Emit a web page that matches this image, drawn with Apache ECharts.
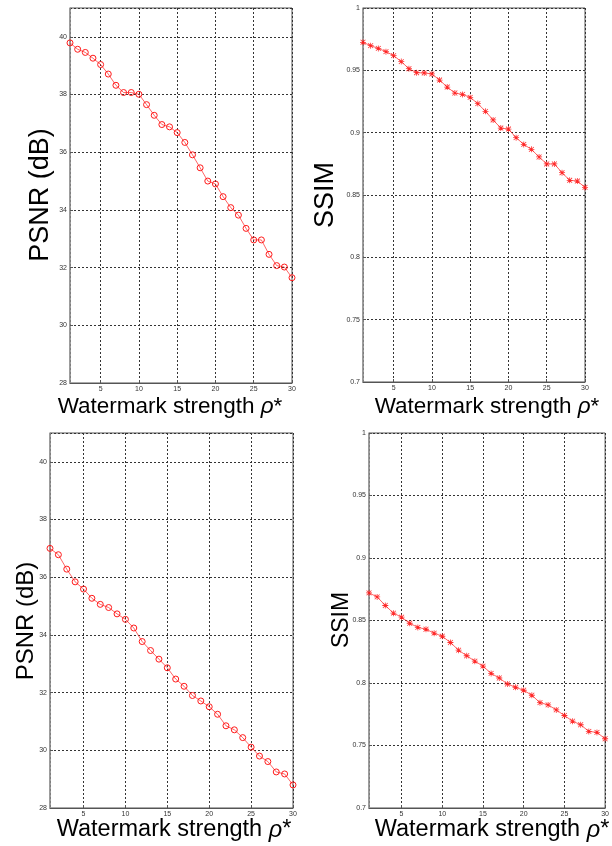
<!DOCTYPE html>
<html><head><meta charset="utf-8">
<script src="https://cdn.jsdelivr.net/npm/echarts@6/dist/echarts.min.js"></script>
<style>html,body{margin:0;padding:0;background:#fff}#c{width:612px;height:846px}</style>
</head><body><div id="c"></div>
<script>
const strength = [1,2,3,4,5,6,7,8,9,10,11,12,13,14,15,16,17,18,19,20,21,22,23,24,25,26,27,28,29,30];
const psnrTop = [39.79,39.57,39.46,39.26,39.04,38.71,38.32,38.07,38.07,38.01,37.65,37.28,36.96,36.88,36.68,36.34,35.91,35.46,35.00,34.90,34.46,34.08,33.82,33.36,32.96,32.96,32.46,32.07,32.02,31.65];
const ssimTop = [0.9725,0.9698,0.9676,0.9650,0.9618,0.9570,0.9513,0.9481,0.9479,0.9471,0.9422,0.9366,0.9318,0.9307,0.9283,0.9233,0.9171,0.9102,0.9037,0.9029,0.8960,0.8906,0.8866,0.8805,0.8749,0.8749,0.8679,0.8618,0.8612,0.8561];
const psnrBottom = [37.00,36.78,36.28,35.84,35.59,35.27,35.06,34.95,34.73,34.54,34.24,33.77,33.46,33.16,32.86,32.47,32.22,31.90,31.71,31.51,31.25,30.85,30.71,30.44,30.11,29.80,29.61,29.25,29.18,28.80];
const ssimBottom = [0.8721,0.8689,0.8620,0.8559,0.8527,0.8478,0.8445,0.8430,0.8399,0.8374,0.8324,0.8263,0.8218,0.8175,0.8135,0.8077,0.8040,0.7992,0.7966,0.7942,0.7902,0.7843,0.7825,0.7785,0.7740,0.7695,0.7666,0.7613,0.7605,0.7554];
const xLabel = 'Watermark strength {i|ρ}*';
const psnrLabel = 'PSNR (dB)';
const ssimLabel = 'SSIM';

const FONT = '"Liberation Sans", Arial, sans-serif';
const RED = '#ff1a1a';
const star = 'path://M4.35 0L5.65 0L5.65 10L4.35 10Z M0 4.35L10 4.35L10 5.65L0 5.65Z M0.5 1.4L1.4 0.5L9.5 8.6L8.6 9.5Z M8.6 0.5L9.5 1.4L1.4 9.5L0.5 8.6Z';

const grids = [
  {left:70, top:8, width:222, height:375},
  {left:363, top:8, width:222, height:374},
  {left:50, top:433, width:243, height:375},
  {left:369, top:433, width:243, height:375}
].map(g => Object.assign({show:true, borderColor:'#555', borderWidth:1, containLabel:false}, g));

const gridLine = {show:true, lineStyle:{color:'#333', type:[2,2], width:1}};
const tickLabel = {color:'#333', fontSize:7, fontFamily:FONT, margin:3};

function xAxis(i){
  return {type:'value', gridIndex:i, min:1, max:30,
    axisLine:{show:true, lineStyle:{color:'#555', width:1}},
    axisTick:{show:true, inside:true, length:3, lineStyle:{color:'#555'}},
    axisLabel:Object.assign({showMinLabel:false}, tickLabel),
    splitLine:gridLine};
}
function yAxis(i, psnr){
  const a = {type:'value', gridIndex:i,
    axisLine:{show:true, lineStyle:{color:'#999', width:1.5}},
    axisTick:{show:true, inside:true, length:3, lineStyle:{color:'#555'}},
    axisLabel:Object.assign({}, tickLabel),
    splitLine:gridLine};
  if (psnr){ a.min=28; a.max=41; a.interval=2; a.axisLabel.showMaxLabel=false; }
  else { a.min=0.7; a.max=1; a.interval=0.05; }
  return a;
}
function pairs(ys){ return strength.map((x,k)=>[x, ys[k]]); }
function series(i, ys, circle){
  return {type:'line', xAxisIndex:i, yAxisIndex:i, data:pairs(ys), silent:true, animation:false,
    lineStyle:{color:RED, width:0.8, opacity:0.85},
    symbol: circle ? 'circle' : star,
    symbolSize: 6,
    itemStyle: circle ? {color:'rgba(255,255,255,0)', borderColor:RED, borderWidth:1} : {color:RED, opacity:0.9}};
}
function text(x, y, str, size, rot){
  return {type:'text', x:x, y:y, rotation: rot ? Math.PI/2 : 0, silent:true,
    style:{text:str, font: size+'px '+FONT, fill:'#000', align:'center', verticalAlign:'middle',
      rich:{i:{fontStyle:'italic', fontSize:size, fontFamily:FONT, fill:'#000'}}}};
}

const chart = echarts.init(document.getElementById('c'), null, {renderer:'canvas'});
chart.setOption({
  animation:false,
  grid:grids,
  xAxis:[xAxis(0), xAxis(1), xAxis(2), xAxis(3)],
  yAxis:[yAxis(0,true), yAxis(1,false), yAxis(2,true), yAxis(3,false)],
  series:[series(0, psnrTop, true), series(1, ssimTop, false), series(2, psnrBottom, true), series(3, ssimBottom, false)],
  graphic:[
    text(170, 407, xLabel, 22.5, false),
    text(487, 407, xLabel, 22.5, false),
    text(174, 830, xLabel, 23.5, false),
    text(492, 830, xLabel, 23.5, false),
    text(41, 195, psnrLabel, 27, true),
    text(326, 195, ssimLabel, 27, true),
    text(26, 621, psnrLabel, 24, true),
    text(342, 620, ssimLabel, 23, true)
  ]
});
</script></body></html>
